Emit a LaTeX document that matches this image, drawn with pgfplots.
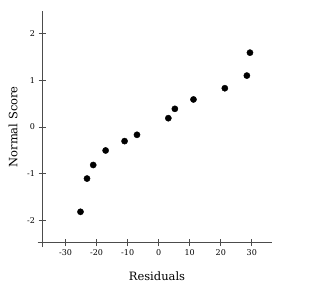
\documentclass[border=0pt]{standalone}
\usepackage{fontspec}
\setmainfont{DejaVu Serif}
\usepackage{pgfplots}
\pgfplotsset{compat=1.18}
\begin{document}
\begin{tikzpicture}
\useasboundingbox (0pt,0pt) rectangle (317pt,304pt);
\begin{axis}[
  at={(42pt,61.3pt)}, anchor=south west,
  scale only axis, width=230pt, height=231.7pt,
  xmin=-37.6, xmax=36.5, ymin=-2.47, ymax=2.48,
  axis lines=left,
  axis line style={-, draw=black!70, line width=0.8pt, shorten <=-4.5pt},
  tick style={draw=black!70, line width=0.8pt},
  tick align=center, major tick length=7pt,
  xtick={-30,-20,-10,0,10,20,30},
  xticklabels={-30,-20,-10,0,10,20,30},
  ytick={-2,-1,0,1,2},
  yticklabels={-2,-1,0,1,2},
  ticklabel style={font=\fontsize{8}{9}\selectfont, text=black},
  xlabel={Residuals}, ylabel={Normal Score},
  xlabel style={at={(axis description cs:0.5,-0.1455)}, anchor=center, font=\fontsize{11.5}{13}\selectfont},
  ylabel style={at={(axis description cs:-0.126,0.5)}, anchor=center, font=\fontsize{11.5}{13}\selectfont},
  clip=false,
]
\addplot[only marks, mark=*, mark size=3.1pt, black] coordinates {
(-25.2,-1.81) (-23.1,-1.10) (-21.1,-0.81) (-17.1,-0.50) (-11.0,-0.30) (-7.0,-0.165)
(3.1,0.19) (5.2,0.39) (11.2,0.59) (21.3,0.83) (28.4,1.10) (29.4,1.59)
};
\end{axis}
\end{tikzpicture}
\end{document}
